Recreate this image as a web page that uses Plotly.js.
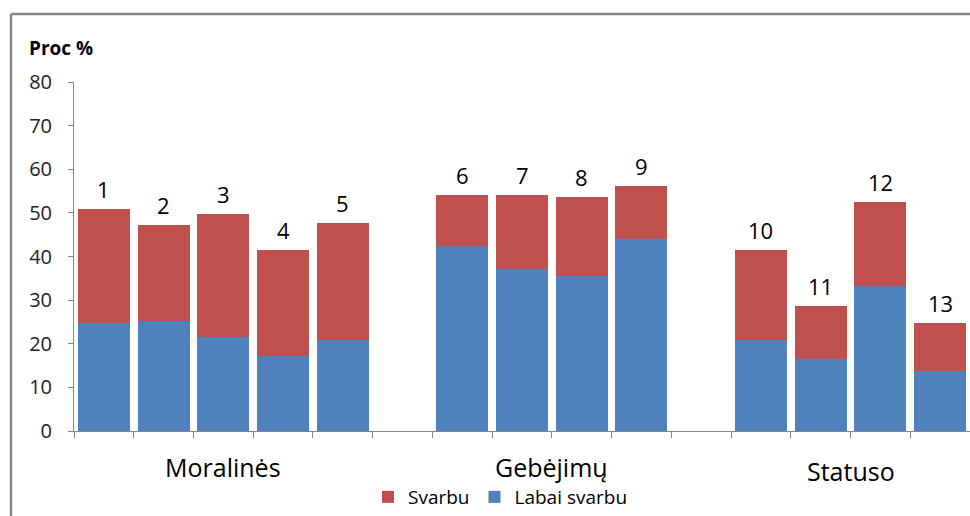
<!DOCTYPE html>
<html>
<head>
<meta charset="utf-8">
<script src="https://cdn.plot.ly/plotly-3.0.1.min.js"></script>
<style>html,body{margin:0;padding:0;background:#fff;}#chart{width:970px;height:516px;}</style>
</head>
<body>
<div id="chart"></div>
<script>
// categories (blank slots separate the three groups)
const categories = ["1","2","3","4","5"," ","6","7","8","9","  ","10","11","12","13"];
const barLabels  = ["1","2","3","4","5","","6","7","8","9","","10","11","12","13"];
// "Labai svarbu" (bottom, blue)
const labaiSvarbu = [24.7,25.3,21.5,17.1,20.9,null,42.5,37.1,35.6,44.0,null,20.9,16.5,33.3,13.8];
// "Svarbu" (top, red) = segment height
const svarbu      = [26.1,21.9,28.3,24.5,26.8,null,11.7,17.1,18.0,12.2,null,20.7,12.1,19.3,11.0];
// group labels and the category index they are centred on
const groupNames   = ["Moralinės","Gebėjimų","Statuso"];
const groupCenters = [2, 7.5, 12.5];
const groupYShift  = [0, 0, -4];

const FONT = "Open Sans, Noto Sans, sans-serif";
const AX = "#868686";

const traces = [
  {type:"bar", name:"Labai svarbu", x:categories, y:labaiSvarbu,
   marker:{color:"#4F81BD", line:{width:0}}, hoverinfo:"skip"},
  {type:"bar", name:"Svarbu", x:categories, y:svarbu,
   marker:{color:"#C0504D", line:{width:0}}, hoverinfo:"skip"}
];

const annotations = [];
categories.forEach((c,i)=>{
  if (!barLabels[i]) return;
  annotations.push({x:i, y:labaiSvarbu[i]+svarbu[i], xref:"x", yref:"y",
    text:barLabels[i], showarrow:false, yanchor:"bottom", yshift:3,
    font:{family:FONT, size:22, color:"#000"}});
});
groupNames.forEach((g,i)=>{
  annotations.push({x:groupCenters[i], y:-0.103, xref:"x", yref:"paper",
    text:g, showarrow:false, yanchor:"middle", yshift:groupYShift[i],
    font:{family:FONT, size:25, color:"#000"}});
});
annotations.push({x:-47/896, y:1.098, xref:"paper", yref:"paper", xanchor:"left", yanchor:"middle",
  text:"<b>Proc %</b>", showarrow:false, font:{family:FONT, size:19, color:"#000"}});

const layout = {
  width:970, height:516,
  margin:{l:74, r:0, t:82, b:85},
  paper_bgcolor:"#fff", plot_bgcolor:"#fff",
  barmode:"stack", bargap:0.13,
  showlegend:true,
  legend:{orientation:"h", x:0.476, xanchor:"center", y:-0.19, yanchor:"middle",
    traceorder:"reversed", font:{family:FONT, size:19, color:"#000"}},
  xaxis:{type:"category", categoryorder:"array", categoryarray:categories,
    showticklabels:false, showline:true, linecolor:AX, linewidth:1,
    ticks:"outside", tickson:"boundaries", ticklen:6, tickcolor:AX,
    showgrid:false, zeroline:false, range:[-0.5,14.5], fixedrange:true},
  yaxis:{range:[0,80], dtick:10, showline:true, linecolor:AX, linewidth:1,
    ticks:"outside", ticklen:5, tickcolor:AX, showgrid:false, zeroline:false,
    ticklabelstandoff:12,
    tickfont:{family:FONT, size:20, color:"#222"}, fixedrange:true},
  annotations:annotations,
  shapes:[
    {type:"line", xref:"paper", yref:"paper", x0:-63/896, x1:1.01, y0:(431-14)/349, y1:(431-14)/349,
     line:{color:"#878787", width:2.5}},
    {type:"line", xref:"paper", yref:"paper", x0:-63/896, x1:-63/896, y0:(431-14)/349, y1:-0.3,
     line:{color:"#878787", width:2.5}}
  ]
};
Plotly.newPlot("chart", traces, layout, {staticPlot:true, displayModeBar:false});
</script>
</body>
</html>
